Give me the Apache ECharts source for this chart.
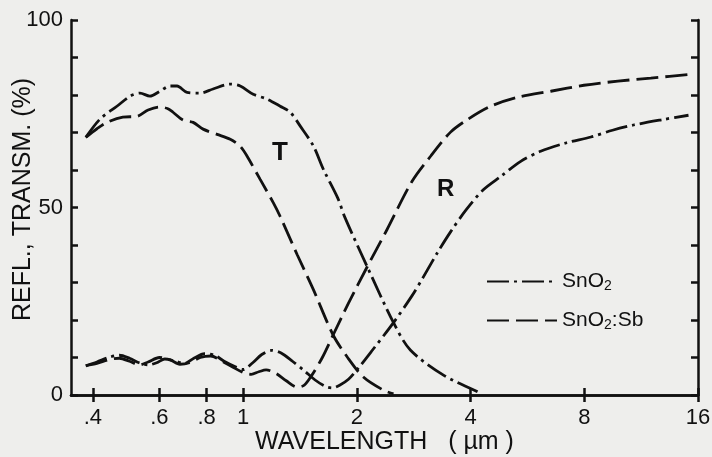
<!DOCTYPE html>
<html>
<head>
<meta charset="utf-8">
<script src="https://cdn.jsdelivr.net/npm/echarts@6/dist/echarts.min.js"></script>
<style>
  html, body { margin: 0; padding: 0; background: #eeeeec; }
  #chart { width: 712px; height: 457px; }
</style>
</head>
<body>
<div id="chart"></div>
<script>
// wavelength (um) ticks on the log axis
const wavelengthTicks = [0.4, 0.6, 0.8, 1, 2, 4, 8, 16];
const wavelengthTickLabels = [".4", ".6", ".8", "1", "2", "4", "8", "16"];
const percentLabels = [0, 50, 100];

// [wavelength um, percent]
const sno2Transmission = [
  [0.383, 68.7], [0.417, 73.5], [0.463, 77.0], [0.502, 79.7], [0.533, 80.5], [0.566, 79.7],
  [0.602, 81.0], [0.640, 82.4], [0.668, 82.4], [0.710, 80.7], [0.769, 80.5], [0.832, 81.6],
  [0.924, 82.9], [0.982, 82.4], [1.063, 80.2], [1.158, 78.9], [1.253, 77.0], [1.332, 75.4],
  [1.416, 71.7], [1.534, 66.4], [1.63, 60.2], [1.78, 52.5], [1.86, 47.3], [2.13, 34.2],
  [2.50, 19.3], [2.77, 12.0], [3.39, 5.3], [4.18, 0.8], [4.25, 0.3]
];
const sno2Reflection = [
  [0.383, 7.8], [0.41, 8.8], [0.44, 10.0], [0.47, 10.6], [0.50, 9.8], [0.53, 8.6], [0.56, 8.0],
  [0.59, 8.6], [0.62, 9.6], [0.66, 9.0], [0.70, 8.4], [0.74, 9.8], [0.79, 11.0], [0.84, 10.6],
  [0.89, 9.0], [0.95, 7.6], [1.00, 6.8], [1.06, 8.6], [1.12, 10.8], [1.19, 11.9], [1.26, 11.2],
  [1.35, 9.0], [1.45, 6.5], [1.55, 4.0], [1.65, 2.3], [1.72, 1.9], [1.80, 2.6], [1.90, 4.2],
  [2.00, 6.7], [2.2, 12.0], [2.5, 19.3], [2.8, 26.5], [3.0, 31.5], [3.27, 38.0], [3.54, 43.5],
  [3.9, 49.5], [4.33, 54.8], [4.81, 58.3], [5.43, 62.3], [6.13, 65.0], [7.15, 67.2], [8.33, 68.8],
  [9.5, 70.6], [10.8, 72.0], [13.0, 73.5], [15.1, 74.6]
];
const sbTransmission = [
  [0.383, 68.7], [0.41, 71.0], [0.436, 72.7], [0.48, 74.1], [0.523, 74.3], [0.56, 76.0],
  [0.60, 76.8], [0.63, 76.4], [0.652, 75.4], [0.693, 73.3], [0.737, 72.7], [0.783, 70.9],
  [0.853, 69.5], [0.924, 68.2], [0.982, 66.3], [1.025, 63.6], [1.109, 57.5], [1.201, 51.3],
  [1.253, 47.6], [1.39, 37.4], [1.534, 28.1], [1.73, 16.0], [1.89, 10.0], [2.08, 4.8],
  [2.35, 1.3], [2.50, 0.3]
];
const sbReflection = [
  [0.383, 7.8], [0.41, 8.4], [0.44, 9.4], [0.47, 9.8], [0.50, 9.0], [0.53, 8.0], [0.56, 8.8],
  [0.60, 10.0], [0.64, 9.4], [0.68, 8.2], [0.72, 8.6], [0.77, 10.0], [0.82, 10.4], [0.88, 9.0],
  [0.94, 7.4], [1.00, 6.0], [1.05, 5.5], [1.10, 6.2], [1.15, 6.7], [1.22, 5.8], [1.30, 3.8],
  [1.39, 2.1], [1.45, 2.6], [1.52, 5.3], [1.62, 10.0], [1.73, 16.0], [1.9, 24.5], [2.13, 34.2],
  [2.4, 44.0], [2.8, 57.0], [3.13, 63.6], [3.54, 70.1], [3.93, 73.5], [4.52, 77.0], [5.33, 79.4],
  [6.52, 81.0], [7.98, 82.6], [9.82, 83.7], [12.0, 84.5], [15.6, 85.6]
];

const ink = "#111111";
const font = "Liberation Sans, Arial, sans-serif";
const dashDot = [22, 5, 3, 5];
const dashed = [22, 7];

const chart = echarts.init(document.getElementById("chart"));

function tickLabel(v) {
  for (let i = 0; i < wavelengthTicks.length; i++) {
    if (Math.abs(wavelengthTicks[i] - v) < 1e-6) return wavelengthTickLabels[i];
  }
  return "";
}

const axisLine = { show: true, lineStyle: { color: ink, width: 2.5 } };

const option = {
  backgroundColor: "#eeeeec",
  animation: false,
  grid: { left: 71, right: 14, top: 20, bottom: 62, containLabel: false, outerBoundsMode: "none" },
  legend: {
    orient: "vertical",
    left: 481,
    top: 266,
    itemWidth: 70,
    itemHeight: 16,
    itemGap: 17,
    data: ["SnO2", "SnO2:Sb"],
    itemStyle: { color: "transparent", borderColor: "transparent", borderWidth: 0, opacity: 0 },
    formatter: name => name === "SnO2" ? "SnO{s|2}" : "SnO{s|2}:Sb",
    textStyle: {
      color: ink, fontSize: 21, fontFamily: font,
      rich: { s: { fontSize: 14, fontFamily: font, color: ink, padding: [9, 0, 0, 0] } }
    }
  },
  xAxis: [
    {
      type: "log", logBase: 10, min: 0.35, max: 16, position: "bottom",
      name: "WAVELENGTH   ( µm )", nameLocation: "middle", nameGap: 35, nameMoveOverlap: false,
      nameTextStyle: { color: ink, fontSize: 25, fontFamily: font },
      axisLine: axisLine,
      axisTick: { inside: true, length: 7, lineStyle: { color: ink, width: 2.5 }, customValues: wavelengthTicks },
      axisLabel: { color: ink, fontSize: 22, fontFamily: font, margin: 12, customValues: wavelengthTicks, formatter: tickLabel },
      splitLine: { show: false }, minorTick: { show: false }
    },
    {
      type: "log", logBase: 10, min: 0.35, max: 16, position: "top",
      axisLine: axisLine,
      axisTick: { inside: true, length: 7, lineStyle: { color: ink, width: 2.5 }, customValues: wavelengthTicks },
      axisLabel: { show: false },
      splitLine: { show: false }
    }
  ],
  yAxis: [
    {
      type: "value", min: 0, max: 100, interval: 10, position: "left",
      name: "REFL., TRANSM. (%)", nameLocation: "middle", nameGap: 35, nameMoveOverlap: false,
      nameTextStyle: { color: ink, fontSize: 25, fontFamily: font, padding: [0, 0, 0, 16] },
      axisLine: axisLine,
      axisTick: { inside: true, length: 7, lineStyle: { color: ink, width: 2.5 } },
      axisLabel: {
        color: ink, fontSize: 22, fontFamily: font, margin: 8,
        formatter: v => percentLabels.indexOf(v) >= 0 ? String(v) : ""
      },
      splitLine: { show: false }
    },
    {
      type: "value", min: 0, max: 100, interval: 10, position: "right",
      axisLine: axisLine,
      axisTick: { inside: true, length: 7, lineStyle: { color: ink, width: 2.5 } },
      axisLabel: { show: false },
      splitLine: { show: false }
    }
  ],
  series: [
    { name: "SnO2", type: "line", data: sno2Transmission, symbol: "none", smooth: 0.3,
      lineStyle: { color: ink, width: 2.8, type: dashDot } },
    { name: "SnO2", type: "line", data: sno2Reflection, symbol: "none", smooth: 0.3,
      lineStyle: { color: ink, width: 2.8, type: dashDot } },
    { name: "SnO2:Sb", type: "line", data: sbTransmission, symbol: "none", smooth: 0.3,
      lineStyle: { color: ink, width: 2.8, type: dashed } },
    { name: "SnO2:Sb", type: "line", data: sbReflection, symbol: "none", smooth: 0.3,
      lineStyle: { color: ink, width: 2.8, type: dashed } }
  ],
  color: [ink, ink, ink, ink],
  graphic: [
    { type: "text", left: 272, top: 140, style: { text: "T", font: "bold 26px " + font, fill: ink } },
    { type: "text", left: 437, top: 177, style: { text: "R", font: "bold 24px " + font, fill: ink } }
  ]
};

chart.setOption(option);
window.addEventListener("resize", () => chart.resize());
</script>
</body>
</html>
